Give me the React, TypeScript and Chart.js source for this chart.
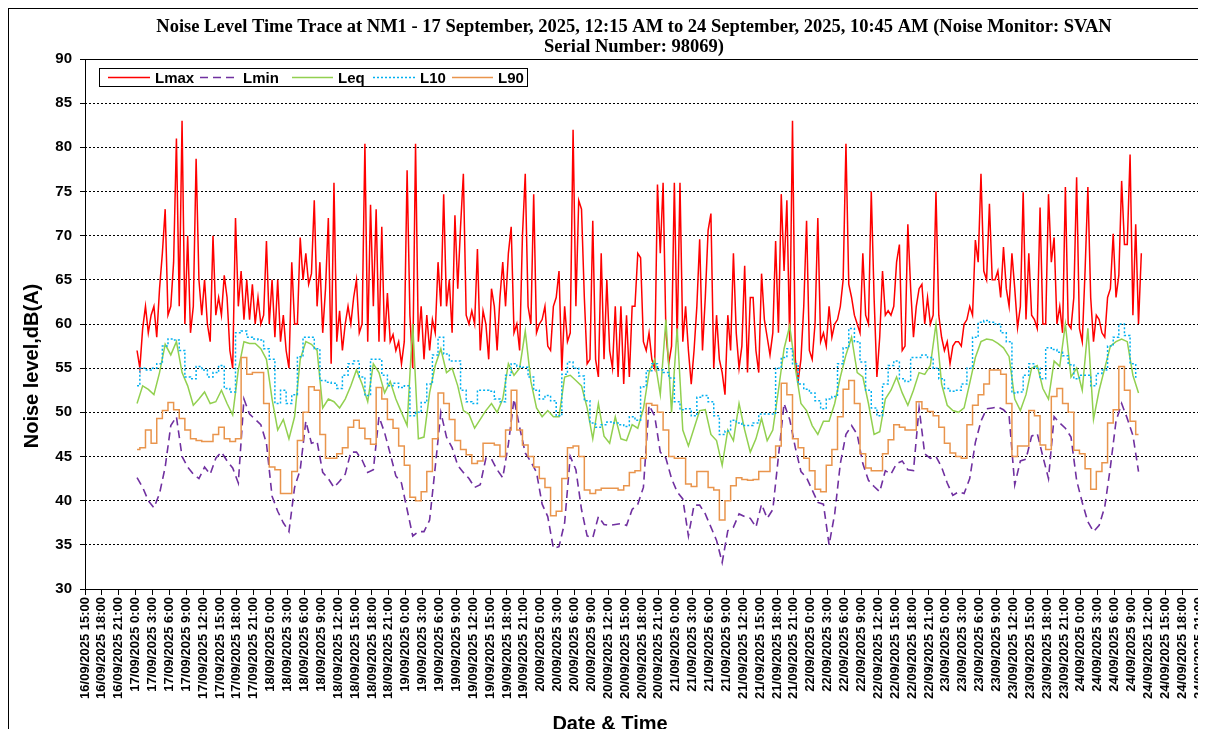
import React, { useEffect, useRef } from "react";
import { Chart, registerables } from "chart.js";

Chart.register(...registerables);

// ---------------- text ----------------
const TITLE_LINES = [
  "Noise Level Time Trace at NM1 - 17 September, 2025, 12:15 AM to 24 September, 2025, 10:45 AM (Noise Monitor: SVAN",
  "Serial Number: 98069)",
];
const Y_TITLE = "Noise level,dB(A)";
const X_TITLE = "Date & Time";
const SERIES_NAMES = ["Lmax", "Lmin", "Leq", "L10", "L90"];

// ---------------- time axis (hours after 16/09/2025 15:00) ----------------
const TICK_LABELS = [
  "16/09/2025 15:00", "16/09/2025 18:00", "16/09/2025 21:00",
  "17/09/2025 0:00", "17/09/2025 3:00", "17/09/2025 6:00", "17/09/2025 9:00", "17/09/2025 12:00", "17/09/2025 15:00", "17/09/2025 18:00", "17/09/2025 21:00",
  "18/09/2025 0:00", "18/09/2025 3:00", "18/09/2025 6:00", "18/09/2025 9:00", "18/09/2025 12:00", "18/09/2025 15:00", "18/09/2025 18:00", "18/09/2025 21:00",
  "19/09/2025 0:00", "19/09/2025 3:00", "19/09/2025 6:00", "19/09/2025 9:00", "19/09/2025 12:00", "19/09/2025 15:00", "19/09/2025 18:00", "19/09/2025 21:00",
  "20/09/2025 0:00", "20/09/2025 3:00", "20/09/2025 6:00", "20/09/2025 9:00", "20/09/2025 12:00", "20/09/2025 15:00", "20/09/2025 18:00", "20/09/2025 21:00",
  "21/09/2025 0:00", "21/09/2025 3:00", "21/09/2025 6:00", "21/09/2025 9:00", "21/09/2025 12:00", "21/09/2025 15:00", "21/09/2025 18:00", "21/09/2025 21:00",
  "22/09/2025 0:00", "22/09/2025 3:00", "22/09/2025 6:00", "22/09/2025 9:00", "22/09/2025 12:00", "22/09/2025 15:00", "22/09/2025 18:00", "22/09/2025 21:00",
  "23/09/2025 0:00", "23/09/2025 3:00", "23/09/2025 6:00", "23/09/2025 9:00", "23/09/2025 12:00", "23/09/2025 15:00", "23/09/2025 18:00", "23/09/2025 21:00",
  "24/09/2025 0:00", "24/09/2025 3:00", "24/09/2025 6:00", "24/09/2025 9:00", "24/09/2025 12:00", "24/09/2025 15:00", "24/09/2025 18:00", "24/09/2025 21:00",
];
const TICK_STEP_H = 3;
const FIRST_SAMPLE_H = 9.25; // 17/09/2025 00:15
const LMAX_STEP_H = 0.5;
const HOURLY_STEP_H = 1;

// ---------------- series values, dB(A) ----------------
// Lmax, half-hourly from 17/09 00:15
const LMAX = [
  57, 55, 59.5, 62, 59, 61, 62, 58.5, 64, 68,
  73, 61, 62, 67, 81, 62, 83, 60, 70, 59,
  62, 78.7, 65, 61, 65, 60, 58, 70, 61, 63,
  61, 65.5, 63, 57, 55, 72, 62, 66, 60.5, 65,
  60.5, 64.5, 60, 63, 60, 61, 69.4, 60, 65, 58.5,
  65, 58, 61, 57, 55, 67, 60, 60, 69.8, 65,
  68, 64.5,
  65.7, 74, 62, 67, 59, 64, 72, 55.5, 76, 58,
  61.5, 57, 60, 62, 60, 63, 65, 59, 60, 80.4,
  58, 73.5, 62, 73, 58, 71, 58, 63.5, 58, 58.8,
  57, 58, 55.5, 58, 77.4, 61, 55, 80.4, 58, 62,
  56, 61, 57, 60.5, 59, 67, 62, 74.7, 62, 65,
  59, 72.3, 64, 71, 77, 61, 60, 61.5, 60, 68.5,
  57, 61.5,
  60, 56, 64, 62, 57, 63, 67, 62, 68, 71,
  59, 60, 57, 70, 77, 62, 60, 74.7, 59, 60,
  60.5, 62, 57.5, 57, 62, 63, 66, 54.7, 62, 58,
  59, 82, 62, 74, 73, 63, 55.5, 56, 71.7, 56,
  54, 68, 56, 65, 57, 55, 62, 54, 62, 53.2,
  61, 54, 62, 62, 68, 67.5, 58, 57, 59, 56,
  55, 75.8,
  68, 76, 59, 55.5, 57.5, 76, 58, 76, 58, 62,
  57, 53.2, 57, 62, 69.6, 57, 63, 70.6, 72.5, 55,
  61, 56, 54.5, 52, 61, 57, 68, 59, 55, 57.5,
  66.6, 54.5, 63, 63, 57, 54.5, 65.7, 60.5, 58.5, 56.5,
  59, 69.4, 59, 74.7, 66, 74, 58, 83, 56, 53.5,
  56, 62, 71.7, 57, 56, 60, 72, 58, 59, 57.5,
  62, 58.5,
  60, 60.5, 62, 65, 80.4, 64.5, 63, 61, 60, 59,
  68, 61, 60, 75, 63, 54, 58.5, 66, 61, 61.5,
  61, 62, 67, 69, 57, 57.5, 71.3, 64, 58.5, 62,
  64, 64.5, 60, 63, 60, 61, 75, 61, 58.5, 57,
  58, 55.5, 57.5, 58, 58, 57.5, 60, 60.5, 62, 61,
  69.5, 67, 77, 66, 65, 73.6, 65, 65, 66, 63,
  68.7, 64, 62,
  68, 64, 59.6, 62, 74.9, 60.5, 68, 61, 60.5, 59.5,
  73.2, 60, 60, 74.7, 67, 69.8, 60, 62, 59, 75.5,
  60, 59.5, 63, 76.6, 59.5, 58, 66, 75.5, 63, 58,
  61, 60.5, 59, 58.5, 63, 64, 70.2, 63, 65.5, 76.2,
  69, 69, 79.2, 61, 71.3, 60, 68,
];

// Hourly series from 17/09 00:15
const LMIN = [
  42.6, 41.5, 40, 39.2, 40.8, 43.8, 48.5, 49.5, 45, 43.8, 43, 42.5, 43.8, 43, 44.8, 45.5, 44.5, 43.7, 42, 51.5, 49.8, 49.2, 48.6, 46.5, 40.5, 38.8, 37.5, 36.5, 41.5, 43.5, 49,
  46.5, 46.7, 43.2, 42.5, 41.5, 42.2, 43, 45.5, 45.5, 44.6, 43.2, 43.5, 49.5, 47.7, 45.3, 42.8, 42, 39, 36, 36.5, 36.5, 37.8, 43.8, 50, 47.2, 46, 44, 43.2, 42.5, 41.5, 41.8,
  44.8, 44.7, 43.5, 42.6, 46.4, 51.5, 48.3, 45.4, 44.4, 43.2, 39.6, 38.2, 34.6, 34.8, 37.5, 45, 43.5, 39, 36, 35.8, 38.2, 37.3, 37.2, 37.3, 37.4, 37.2, 39, 39.6, 41.5, 50.8, 49.6,
  45.5, 44.8, 42.5, 41, 40.2, 36, 39.5, 39.5, 38.5, 37, 35.5, 33, 36.6, 37, 38.5, 38.2, 38, 37, 39.6, 38, 39, 45, 51, 49.2, 46, 43.3, 42.6, 41.2, 39.8, 39.6, 35,
  38.5, 44.2, 47.5, 48.5, 47.5, 44.2, 42.3, 41.6, 41, 43.4, 43, 44.2, 44.5, 43.5, 43.4, 50.5, 45.3, 44.8, 45, 43.8, 42, 40.6, 41, 40.8, 42.5, 46.6, 49, 50.4, 50.5, 50.6, 50.3,
  49.6, 41.8, 44.5, 44.7, 47.3, 47.6, 45, 42.5, 49.5, 48.8, 48.2, 47.2, 42.3, 39.8, 37.6, 36.5, 37.2, 39.3, 43.8, 49, 51, 49.3, 47.4, 43.3,
];

const LEQ = [
  51, 53, 52.6, 52, 54.5, 57.7, 56.5, 58, 54.5, 53, 50.8, 51.5, 52.3, 51, 51.2, 52.5, 51, 49.7, 54.8, 58, 57.8, 57.8, 57.2, 56, 51.5, 48, 49.2, 47, 49.5, 56, 58,
  57.7, 57, 50.5, 51.5, 51.2, 50.5, 51.5, 53, 54.8, 53.2, 51.2, 55.5, 54.5, 52.2, 53.5, 51.5, 50, 48.5, 60, 47, 47.2, 52.2, 55.3, 57.2, 54.5, 55, 53, 50.2, 49.8, 48.2, 49.2,
  50.2, 51, 50, 51.5, 55.5, 54.2, 55, 59.2, 53.5, 50.5, 49.5, 50.2, 49.5, 49.5, 54, 54.2, 53.6, 53, 50.5, 47, 51, 47.3, 46.5, 49.5, 47, 46.8, 48.6, 48.2, 50.4, 54.5, 56,
  52, 60.5, 50, 59.5, 48, 46.2, 48.2, 50.2, 50.3, 47.5, 46.8, 44, 48, 46.8, 51, 48, 45.5, 47, 49.3, 46.8, 48, 52.5, 57.2, 59.8, 55, 51, 50.2, 48.5, 47.5, 49, 49,
  51, 54, 56.5, 58.5, 54.5, 54, 51, 47.5, 47.8, 51.5, 52.5, 54, 52.2, 50.8, 52.5, 54.5, 54.3, 55.3, 60, 53.2, 50.8, 50.2, 50, 50.5, 53.3, 56.2, 58, 58.3, 58.2, 57.8, 57.3,
  56.3, 51.5, 50.2, 52, 55, 55.3, 52.7, 51.5, 55.8, 55.2, 60, 54, 55, 52.5, 59.5, 49.2, 52.5, 55, 57.5, 58, 58.3, 58, 54.2, 52.2,
];

const L10 = [
  53, 55, 54.8, 55, 55.5, 57.5, 58.3, 58.2, 57, 54, 53.8, 55.2, 54.8, 54, 54.5, 55.3, 52.7, 52.3, 59, 59.2, 58.5, 58.3, 58.2, 57.2, 56, 51, 52.5, 51, 52, 56.3, 58.5,
  58.5, 57.2, 53.6, 53.4, 53.3, 52.7, 54.2, 55.5, 55.8, 54, 51.9, 56, 56, 54.2, 53, 53.3, 52.8, 53, 49.6, 50, 51.1, 53.2, 56.5, 58.5, 56.6, 55.8, 55.8, 52.5, 51.2, 51, 52.5,
  52.5, 52.4, 51.5, 51.2, 54.2, 55.5, 55.2, 55.1, 54, 52.5, 51.5, 51.9, 51.3, 49.6, 54.3, 55.7, 55, 54.1, 51.3, 48.8, 48.3, 48.6, 48.9, 48.8, 48.6, 48.4, 49.5, 49.1, 52.9, 54.7, 55.5,
  54.8, 54.5, 53.9, 51.2, 50.3, 50.4, 49.6, 51.7, 51.9, 51.2, 49.6, 47.5, 47.9, 49.1, 48.8, 48.5, 48.5, 48.8, 49.8, 49.8, 49.8, 55, 56.2, 57.2, 55.5, 53.2, 52.6, 52.2, 51.3, 50.4, 51.5,
  51.8, 55.5, 57.3, 59.5, 58, 55.7, 52.5, 50.5, 49.6, 53.2, 55.3, 55.8, 53.8, 53.5, 56.2, 56.2, 56.5, 56.2, 55, 53.8, 52.7, 52.4, 52.5, 53.2, 55, 58.5, 60.2, 60.4, 60.2, 60, 59,
  58, 52.2, 52.3, 54.2, 55.5, 55, 53.8, 57.3, 57.1, 56.8, 56.4, 55.4, 53.8, 54.2, 54.2, 53, 54.4, 54.8, 57.5, 58.5, 60, 58.7, 55.5, 54,
];

const L90 = [
  45.8, 46, 48, 46.5, 49.3, 50.2, 51.1, 50.3, 49.3, 48, 47, 46.8, 46.7, 46.7, 47.5, 48.3, 47, 46.7, 47, 56.2, 54.3, 54.5, 54.5, 51, 43.8, 43.5, 40.8, 40.8, 43.3, 46.8, 50,
  52.9, 52.5, 47.5, 44.8, 44.8, 45.3, 46, 48.3, 49.1, 48.2, 47, 46.4, 52.8, 51.5, 49.2, 48.2, 46.2, 44, 40.4, 40, 41, 43.3, 47, 52.2, 51, 49.2, 46.8, 45.8, 45.2, 44.2, 44.5,
  46.5, 46.5, 46.3, 45, 48, 52.5, 48, 46.3, 45, 43.8, 42.5, 41.5, 38.3, 38.8, 42.5, 46, 46.2, 45, 41.2, 40.8, 41.2, 41.4, 41.4, 41.4, 41.2, 41.7, 43.2, 43.4, 44.8, 51, 50.8,
  50, 48, 45, 44.8, 44.8, 41.9, 41.6, 43.3, 43.3, 41.5, 41.2, 37.8, 40, 41.7, 42.6, 42.4, 42.3, 42.4, 43.3, 43.3, 44.9, 46.2, 53.3, 52, 47, 46, 44.8, 43.4, 41.3, 41, 44,
  45.8, 49.5, 52.6, 53.6, 51, 45.3, 43.7, 43.4, 43.4, 45.3, 46.9, 48.6, 48.3, 48, 48, 51.2, 50.4, 50.1, 49.6, 48.3, 46.5, 45.4, 45, 44.8, 48.6, 50.8, 52, 53.2, 54.8, 54.8, 54.3,
  51, 45, 46.2, 46.2, 50.2, 49.6, 46.3, 45.8, 51.8, 52.7, 51, 50, 45.7, 45.3, 43.6, 41.3, 43.3, 44.3, 48.8, 50.3, 55.2, 52.5, 49, 47.5,
];

const Y_MIN = 30;
const Y_MAX = 90;
const Y_STEP = 5;

// ---------------- styling ----------------
const SANS = "'Liberation Sans', Arial, sans-serif";
const SERIF = "'Liberation Serif', 'Times New Roman', serif";

const toPoints = (vals: number[], step: number) =>
  vals.map((v, i) => ({ x: FIRST_SAMPLE_H + i * step, y: v }));

// legend sample positions (canvas px)
const LEGEND_BOX = { x: 90, y: 59, w: 428, h: 18 };
const LEGEND_LINE_X = [99, 191, 283, 364, 443];
const LEGEND_LINE_W = [42, 38, 41, 42, 41];

const decorPlugin = {
  id: "decor",
  beforeDatasetsDraw(chart: any) {
    const { ctx, chartArea: a } = chart;
    ctx.save();
    ctx.strokeStyle = "#000";
    ctx.lineWidth = 1;
    ctx.setLineDash([]);
    ctx.strokeRect(
      Math.round(a.left) + 0.5,
      Math.round(a.top) + 0.5,
      Math.round(a.right - a.left),
      Math.round(a.bottom - a.top)
    );
    ctx.restore();
  },
  afterDraw(chart: any) {
    const { ctx } = chart;
    ctx.save();
    ctx.fillStyle = "#000";
    // title
    ctx.font = `bold 18.5px ${SERIF}`;
    ctx.textAlign = "center";
    ctx.textBaseline = "alphabetic";
    ctx.fillText(TITLE_LINES[0], 625, 23);
    ctx.fillText(TITLE_LINES[1], 625, 43);

    // legend
    ctx.strokeStyle = "#000";
    ctx.lineWidth = 1;
    ctx.strokeRect(LEGEND_BOX.x + 0.5, LEGEND_BOX.y + 0.5, LEGEND_BOX.w, LEGEND_BOX.h);
    const cy = LEGEND_BOX.y + LEGEND_BOX.h / 2 + 0.5;
    ctx.font = `bold 15px ${SANS}`;
    ctx.textAlign = "left";
    ctx.textBaseline = "middle";
    chart.data.datasets.forEach((ds: any, i: number) => {
      const x0 = LEGEND_LINE_X[i];
      const w = LEGEND_LINE_W[i];
      ctx.save();
      ctx.strokeStyle = ds.borderColor;
      ctx.lineWidth = ds.borderWidth;
      ctx.setLineDash(ds.borderDash || []);
      ctx.beginPath();
      ctx.moveTo(x0, cy);
      ctx.lineTo(x0 + w, cy);
      ctx.stroke();
      ctx.restore();
      ctx.fillText(ds.label, x0 + w + 5, cy + 1);
    });

    // axis titles
    ctx.font = `bold 20px ${SANS}`;
    ctx.textAlign = "center";
    ctx.textBaseline = "middle";
    ctx.fillText(X_TITLE, 601, 715);
    ctx.translate(23, 357);
    ctx.rotate(-Math.PI / 2);
    ctx.fillText(Y_TITLE, 0, 0);
    ctx.restore();
  },
};

export default function App() {
  const canvasRef = useRef<HTMLCanvasElement | null>(null);

  useEffect(() => {
    if (!canvasRef.current) return;
    const chart = new Chart(canvasRef.current, {
      type: "line",
      data: {
        datasets: [
          {
            label: SERIES_NAMES[0],
            data: toPoints(LMAX, LMAX_STEP_H),
            borderColor: "#FF0000",
            borderWidth: 1.5,
            order: 5,
          },
          {
            label: SERIES_NAMES[1],
            data: toPoints(LMIN, HOURLY_STEP_H),
            borderColor: "#7030A0",
            borderWidth: 1.6,
            borderDash: [8, 5],
            order: 4,
          },
          {
            label: SERIES_NAMES[2],
            data: toPoints(LEQ, HOURLY_STEP_H),
            borderColor: "#92D050",
            borderWidth: 1.5,
            order: 3,
          },
          {
            label: SERIES_NAMES[3],
            data: toPoints(L10, HOURLY_STEP_H),
            borderColor: "#00B0F0",
            borderWidth: 1.5,
            borderDash: [2, 2],
            stepped: "middle",
            order: 2,
          },
          {
            label: SERIES_NAMES[4],
            data: toPoints(L90, HOURLY_STEP_H),
            borderColor: "#E9954D",
            borderWidth: 1.5,
            stepped: "middle",
            order: 1,
          },
        ] as any,
      },
      options: {
        animation: false,
        responsive: true,
        maintainAspectRatio: false,
        layout: { padding: { top: 50, right: 7, left: 0, bottom: 0 } },
        elements: { point: { radius: 0, hoverRadius: 0 }, line: { tension: 0, fill: false } },
        plugins: {
          legend: { display: false },
          title: { display: false },
          tooltip: { enabled: false },
        },
        events: [],
        scales: {
          x: {
            type: "linear",
            min: 0,
            max: (TICK_LABELS.length - 1) * TICK_STEP_H,
            border: { display: false },
            grid: { drawOnChartArea: false, drawTicks: true, tickLength: 6, tickColor: "#000" },
            ticks: {
              stepSize: TICK_STEP_H,
              autoSkip: false,
              maxRotation: 90,
              minRotation: 90,
              padding: 2,
              color: "#000",
              font: { family: SANS, size: 13, weight: "bold" },
              callback: (v: any) => TICK_LABELS[Math.round(Number(v) / TICK_STEP_H)] ?? "",
            },
            afterFit: (s: any) => {
              s.height = 148;
              s.paddingLeft = 0;
              s.paddingRight = 0;
            },
          },
          y: {
            type: "linear",
            min: Y_MIN,
            max: Y_MAX,
            border: { display: false, dash: [2, 2] },
            grid: {
              color: (c: any) =>
                c.tick && (c.tick.value === Y_MIN || c.tick.value === Y_MAX) ? "rgba(0,0,0,0)" : "#000",
              lineWidth: 1,
              tickLength: 5,
              tickColor: "#000",
            },
            ticks: {
              stepSize: Y_STEP,
              padding: 8,
              color: "#000",
              font: { family: SANS, size: 15, weight: "bold" },
            },
            afterFit: (s: any) => {
              s.width = 76;
              s.paddingTop = 0;
              s.paddingBottom = 0;
            },
          },
        },
      } as any,
      plugins: [decorPlugin as any],
    });
    return () => chart.destroy();
  }, []);

  return (
    <div
      style={{
        width: 1198,
        height: 729,
        marginBottom: -8,
        borderLeft: "1px solid #000",
        borderTop: "1px solid #000",
        boxSizing: "border-box",
        background: "#fff",
      }}
    >
      <div style={{ position: "relative", width: 1197, height: 728 }}>
        <canvas ref={canvasRef} style={{ display: "block" }} />
      </div>
    </div>
  );
}
